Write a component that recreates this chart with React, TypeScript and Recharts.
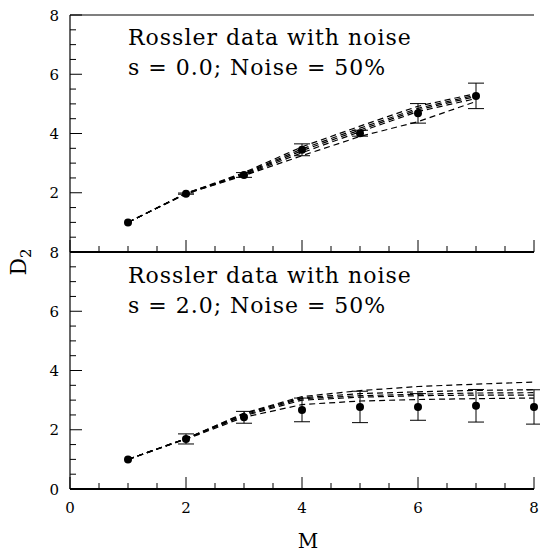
import React from 'react';
import { ComposedChart, Line, Scatter, ErrorBar, XAxis, YAxis, ReferenceLine } from 'recharts';

// embedding dimension M
const topM = [1, 2, 3, 4, 5, 6, 7];
const bottomM = [1, 2, 3, 4, 5, 6, 7, 8];

// s = 0.0 panel: measured D2 with error
const topD2 = [1.0, 1.97, 2.6, 3.45, 4.01, 4.68, 5.27];
const topErr = [0, 0.02, 0.08, 0.2, 0.1, 0.33, 0.43];
const topCurves = [
  [1.0, 1.98, 2.68, 3.55, 4.25, 4.92, 5.35],
  [1.0, 1.98, 2.65, 3.48, 4.18, 4.85, 5.3],
  [1.0, 1.97, 2.63, 3.42, 4.12, 4.8, 5.25],
  [1.0, 1.97, 2.6, 3.35, 4.06, 4.74, 5.18],
  [1.0, 1.96, 2.58, 3.25, 3.9, 4.4, 5.08],
];

// s = 2.0 panel
const bottomD2 = [1.0, 1.69, 2.42, 2.67, 2.77, 2.77, 2.81, 2.77];
const bottomErr = [0, 0.17, 0.2, 0.4, 0.53, 0.45, 0.55, 0.58];
const bottomCurves = [
  [1.0, 1.7, 2.56, 3.12, 3.32, 3.46, 3.54, 3.61],
  [1.0, 1.7, 2.54, 3.08, 3.22, 3.28, 3.33, 3.35],
  [1.0, 1.7, 2.5, 3.05, 3.15, 3.2, 3.24, 3.25],
  [1.0, 1.7, 2.47, 3.0, 3.1, 3.15, 3.17, 3.17],
  [1.0, 1.68, 2.42, 2.85, 2.97, 3.02, 3.05, 3.07],
];

const xTicks = [0, 0.5, 1, 1.5, 2, 2.5, 3, 3.5, 4, 4.5, 5, 5.5, 6, 6.5, 7, 7.5, 8];
const yTicks = [0, 0.5, 1, 1.5, 2, 2.5, 3, 3.5, 4, 4.5, 5, 5.5, 6, 6.5, 7, 7.5, 8];
const xLabels = [0, 2, 4, 6, 8];
const topYLabels = [2, 4, 6, 8];
const bottomYLabels = [0, 2, 4, 6, 8];

const FONT = '"DejaVu Serif", serif';

const buildRows = (ms: number[], d2: number[], err: number[], curves: number[][]) =>
  ms.map((m, i) => {
    const row: any = { m, d2: d2[i], err: err[i] };
    curves.forEach((c, k) => (row[`c${k}`] = c[i]));
    return row;
  });

const topRows = buildRows(topM, topD2, topErr, topCurves);
const bottomRows = buildRows(bottomM, bottomD2, bottomErr, bottomCurves);

const makeYTick = (labels: number[]) => (props: any) => {
  const { x, y, payload } = props;
  const v = payload.value;
  const major = v % 2 === 0;
  return (
    <g>
      <line x1={x} x2={x + (major ? 12 : 6)} y1={y} y2={y} stroke="#000" strokeWidth={1} />
      {major && labels.includes(v) && (
        <text x={x - 11} y={y + 5.5} textAnchor="end" fontFamily={FONT} fontSize={15} fill="#000">
          {v}
        </text>
      )}
    </g>
  );
};

const makeXTick = (labels: number[]) => (props: any) => {
  const { x, y, payload } = props;
  const v = payload.value;
  const major = v % 2 === 0;
  return (
    <g>
      <line x1={x} x2={x} y1={y} y2={y - (major ? 12 : 6)} stroke="#000" strokeWidth={1} />
      {labels.includes(v) && (
        <text x={x} y={y + 24} textAnchor="middle" fontFamily={FONT} fontSize={15} fill="#000">
          {v}
        </text>
      )}
    </g>
  );
};

const dot = (p: any) => <circle cx={p.cx} cy={p.cy} r={4} fill="#000" />;

function Panel({ rows, nCurves, yLabels, xLabelsShown, top, height, margin, border }: any) {
  return (
    <div style={{ position: 'absolute', left: 0, top }}>
      <ComposedChart width={540} height={height} data={rows} margin={margin}>
        <XAxis
          type="number"
          dataKey="m"
          domain={[0, 8]}
          ticks={xTicks}
          interval={0}
          height={30}
          tickSize={0}
          tickMargin={0}
          tickLine={false}
          axisLine={{ stroke: '#000', strokeWidth: 2 }}
          tick={makeXTick(xLabelsShown)}
        />
        <YAxis
          type="number"
          domain={[0, 8]}
          ticks={yTicks}
          interval={0}
          width={70}
          tickSize={0}
          tickMargin={0}
          tickLine={false}
          axisLine={{ stroke: '#000', strokeWidth: 1.2 }}
          tick={makeYTick(yLabels)}
        />
        {border && <ReferenceLine y={8} stroke="#000" strokeWidth={1.2} />}
        {Array.from({ length: nCurves }, (_, k) => (
          <Line
            key={k}
            type="linear"
            dataKey={`c${k}`}
            stroke="#000"
            strokeWidth={1.2}
            strokeDasharray="6 4"
            dot={false}
            isAnimationActive={false}
          />
        ))}
        <Scatter dataKey="d2" shape={dot} isAnimationActive={false}>
          <ErrorBar dataKey="err" direction="y" width={8} stroke="#000" strokeWidth={1} />
        </Scatter>
      </ComposedChart>
    </div>
  );
}

export default function App() {
  const txt = { fontFamily: FONT, fontSize: 22, fill: '#000', letterSpacing: 1 };
  return (
    <div style={{ position: 'absolute', left: 0, top: 0, width: 540, height: 556, background: '#fff' }}>
      <Panel
        rows={topRows}
        nCurves={topCurves.length}
        yLabels={topYLabels}
        xLabelsShown={[]}
        top={0}
        height={292}
        margin={{ top: 15, right: 6, bottom: 10, left: 0 }}
        border
      />
      <Panel
        rows={bottomRows}
        nCurves={bottomCurves.length}
        yLabels={bottomYLabels}
        xLabelsShown={xLabels}
        top={240}
        height={316}
        margin={{ top: 12, right: 6, bottom: 37, left: 0 }}
      />
      <svg width={540} height={556} style={{ position: 'absolute', left: 0, top: 0, pointerEvents: 'none' }}>
        <text x={128} y={45} {...txt}>Rossler data with noise</text>
        <text x={128} y={75} {...txt}>s = 0.0; Noise = 50%</text>
        <text x={128} y={283} {...txt}>Rossler data with noise</text>
        <text x={128} y={313} {...txt}>s = 2.0; Noise = 50%</text>
        <text x={308} y={548} textAnchor="middle" fontFamily={FONT} fontSize={20} fill="#000">M</text>
        <text transform="rotate(-90, 26, 262)" x={26} y={262} textAnchor="middle" fontFamily={FONT} fontSize={22} fill="#000">
          D<tspan fontSize={15} dy={5}>2</tspan>
        </text>
      </svg>
    </div>
  );
}
